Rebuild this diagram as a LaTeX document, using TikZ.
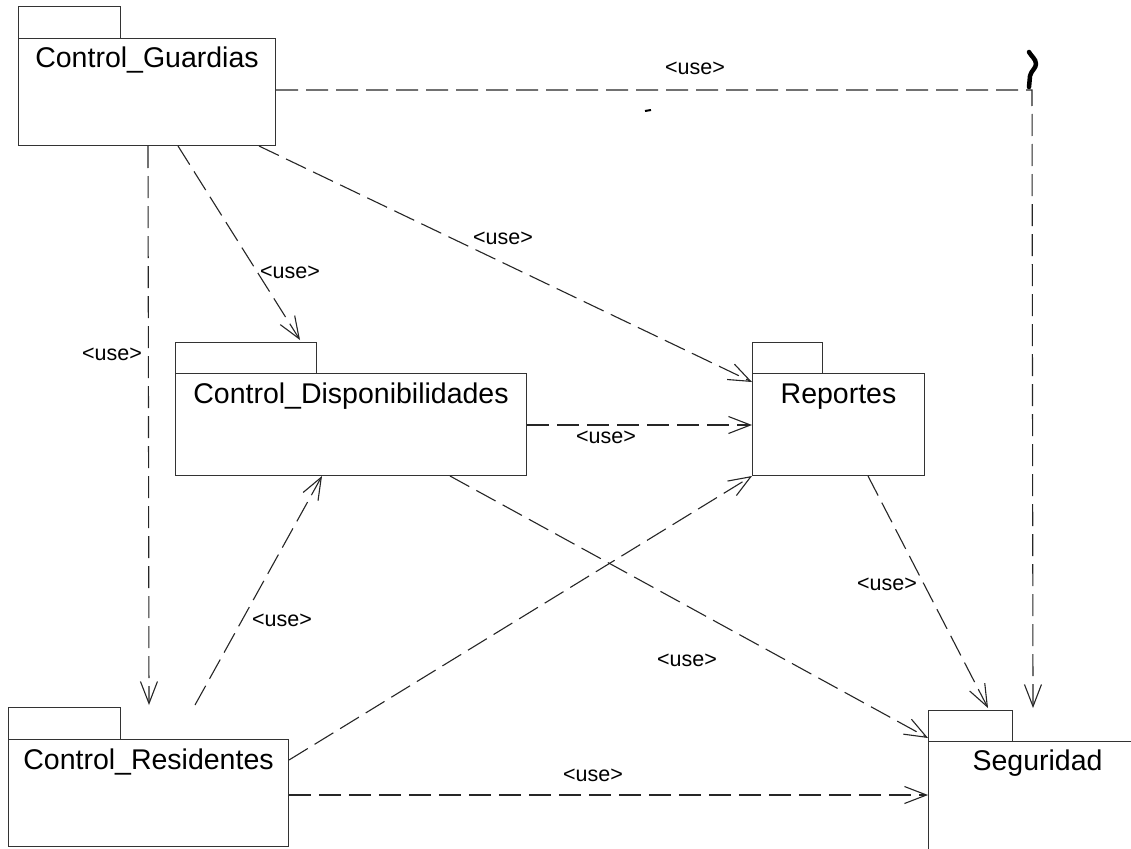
\documentclass[tikz,border=0pt]{standalone}
\usepackage{fontspec}
\setmainfont{Liberation Sans}
\usetikzlibrary{arrows.meta}

\tikzset{
  pkgbody/.style={draw=black!80, line width=1pt, fill=white, inner sep=0pt, anchor=north west},
  pkgtab/.style={draw=black!80, line width=1pt, fill=white, inner sep=0pt, anchor=north west},
  pkgname/.style={anchor=base, inner sep=0pt, font=\fontsize{28.5}{34}\selectfont},
  uselabel/.style={inner sep=0pt, font=\fontsize{21.5}{26}\selectfont},
  dep/.style={draw=black!85, line width=1.1pt, dash pattern=on 22pt off 8pt,
    -{Straight Barb[length=22pt,width=17pt,line width=1.1pt]}},
}

\begin{document}
\begin{tikzpicture}[x=1pt, y=-1pt]
\useasboundingbox (0,0) rectangle (1131,848);
\clip (0,0) rectangle (1131,848);
\fill[white] (0,0) rectangle (1131,848);

% packages: tab first, then body
\node[pkgtab, minimum width=102pt, minimum height=32pt] (gtab) at (18,6) {};
\node[pkgbody, minimum width=257pt, minimum height=107pt] (g) at (18,38) {};
\node[pkgname] (gname) at ([yshift=-30pt]g.north) {Control\_Guardias};

\node[pkgtab, minimum width=141pt, minimum height=31pt] (dtab) at (175,342) {};
\node[pkgbody, minimum width=351pt, minimum height=102pt] (d) at (175,373) {};
\node[pkgname] (dname) at ([yshift=-30pt]d.north) {Control\_Disponibilidades};

\node[pkgtab, minimum width=70pt, minimum height=31pt] (rptab) at (752,342) {};
\node[pkgbody, minimum width=172pt, minimum height=102pt] (rp) at (752,373) {};
\node[pkgname] (rpname) at ([yshift=-30pt]rp.north) {Reportes};

\node[pkgtab, minimum width=84pt, minimum height=31pt] (stab) at (928,710) {};
\node[pkgbody, minimum width=218pt, minimum height=140pt] (s) at (928,741) {};
\node[pkgname] (sname) at ([yshift=-29pt]s.north) {Seguridad};

\node[pkgtab, minimum width=112pt, minimum height=32pt] (rtab) at (8,707) {};
\node[pkgbody, minimum width=280pt, minimum height=107pt] (r) at (8,739) {};
\node[pkgname] (rname) at ([yshift=-30pt]r.north) {Control\_Residentes};

% dependencies
\coordinate (gcorner) at (1032,90);
\draw[dep] ([yshift=-52pt]g.north east) -- (gcorner) -- ([xshift=20pt,yshift=2pt]stab.north east);
\draw[dep] ([xshift=130pt]g.south west) -- ([xshift=28pt,yshift=2pt]rtab.north east);
\draw[dep] ([xshift=160pt]g.south west) -- ([xshift=125pt,yshift=2pt]dtab.north west);
\draw[dep] ([xshift=-17pt]g.south east) -- ([yshift=-9pt]rp.north west);
\draw[dep] ([yshift=-52pt]d.north east) -- ([yshift=-52pt]rp.north west);
\draw[dep] ([xshift=275pt]d.south west) -- ([yshift=3pt]s.north west);
\draw[dep] ([xshift=116pt]rp.south west) -- ([xshift=60pt,yshift=2pt]stab.north west);
\draw[dep] ([xshift=187pt,yshift=2pt]rtab.north west) -- ([xshift=147pt]d.south west);
\draw[dep] ([yshift=-21pt]r.north east) -- (rp.south west);
\draw[dep] ([yshift=-56pt]r.north east) -- ([yshift=-54pt]s.north west);

% labels
\node[uselabel] (l1) at (695,68) {<use>};
\node[uselabel] (l2) at (112,354) {<use>};
\node[uselabel] (l3) at (290,272) {<use>};
\node[uselabel] (l4) at (503,238) {<use>};
\node[uselabel] (l5) at (606,437) {<use>};
\node[uselabel] (l6) at (687,660) {<use>};
\node[uselabel] (l7) at (887,584) {<use>};
\node[uselabel] (l8) at (282,620) {<use>};
\node[uselabel] (l10) at (593,775) {<use>};

% stray pen marks
\draw[line width=4.5pt, line cap=round, line join=round]
  (1029,52) .. controls (1031,56) and (1036,59) .. (1036,64)
  .. controls (1036,68) and (1031,71) .. (1030,76)
  -- (1029,87);
\draw[line width=2pt] (645,111) -- (651,110);
\end{tikzpicture}
\end{document}
